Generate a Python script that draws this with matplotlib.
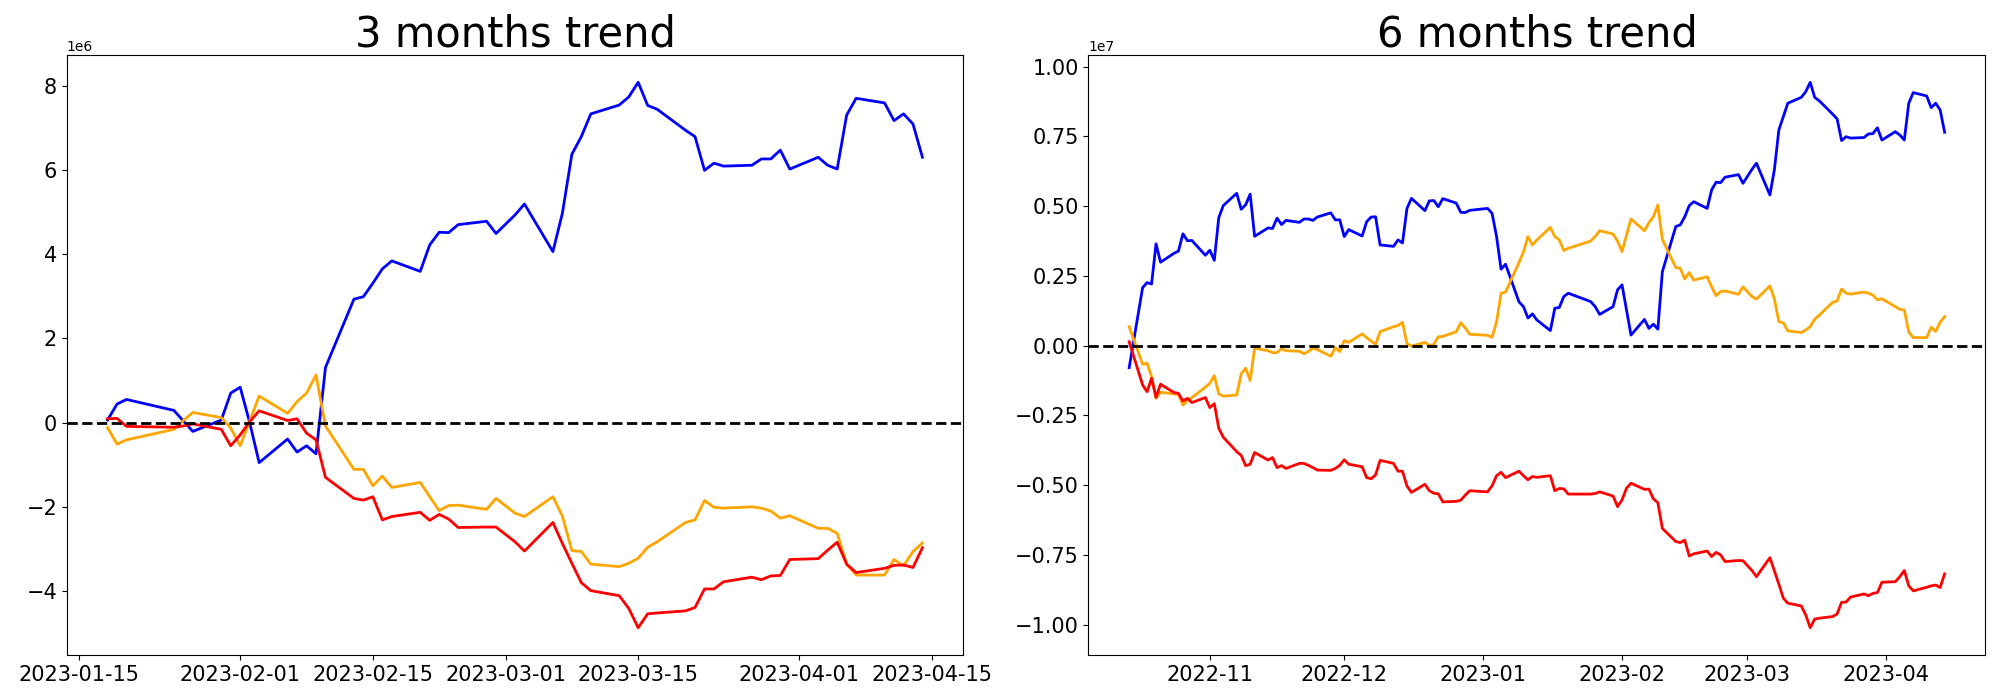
import matplotlib
matplotlib.use("Agg")
import matplotlib.pyplot as plt
import pandas as pd

# Korean market trading days (market holidays excluded)
holidays = ["2022-12-30", "2023-01-23", "2023-01-24", "2023-03-01"]
dates_3m = pd.bdate_range("2023-01-18", "2023-04-14", freq="C", holidays=holidays)
dates_6m = pd.bdate_range("2022-10-14", "2023-04-14", freq="C", holidays=holidays)

# ---- 3 months trend (values in units of 1e6) ----
blue_3m = [0.06, 0.44, 0.55, 0.29, 0.04, -0.21, 0.06, 0.70,
           0.84, 0.0, -0.95, -0.39, -0.70, -0.55, -0.74, 1.31, 2.93, 2.99, 3.31, 3.65,
           3.84, 3.59, 4.22, 4.52, 4.51, 4.70, 4.78, 4.49,
           4.93, 5.19, 4.06, 4.97, 6.37, 6.79, 7.33, 7.54, 7.73, 8.08, 7.53, 7.44,
           6.94, 6.79, 5.99, 6.16, 6.09, 6.11, 6.26, 6.26, 6.47, 6.02,
           6.30, 6.11, 6.02, 7.30, 7.70, 7.59, 7.17, 7.33, 7.09, 6.30]
orange_3m = [-0.12, -0.51, -0.41, -0.16, 0.05, 0.24, 0.12, -0.13,
             -0.55, 0.04, 0.63, 0.22, 0.50, 0.70, 1.13, -0.08, -1.11, -1.11, -1.50, -1.27,
             -1.54, -1.42, -1.76, -2.09, -1.97, -1.96, -2.06, -1.80,
             -2.15, -2.23, -1.76, -2.22, -3.04, -3.06, -3.36, -3.42, -3.34, -3.22, -2.96, -2.83,
             -2.37, -2.31, -1.85, -2.01, -2.03, -2.00, -2.03, -2.10, -2.27, -2.21,
             -2.51, -2.51, -2.63, -3.36, -3.62, -3.62, -3.25, -3.40, -3.06, -2.86]
red_3m = [0.09, 0.10, -0.09, -0.11, -0.08, -0.03, -0.16, -0.55,
          -0.29, 0.02, 0.28, 0.05, 0.09, -0.25, -0.41, -1.30, -1.80, -1.84, -1.76, -2.31,
          -2.23, -2.13, -2.32, -2.18, -2.29, -2.49, -2.48, -2.48,
          -2.83, -3.05, -2.37, -2.87, -3.34, -3.80, -3.99, -4.11, -4.41, -4.87, -4.54, -4.52,
          -4.47, -4.39, -3.95, -3.95, -3.78, -3.67, -3.73, -3.64, -3.63, -3.25,
          -3.23, -3.03, -2.84, -3.36, -3.56, -3.46, -3.39, -3.38, -3.44, -2.97]

# ---- 6 months trend (values in units of 1e7) ----
blue_6m = [-0.079, 0.208, 0.226, 0.221, 0.365, 0.299, 0.331, 0.339, 0.401, 0.376, 0.377, 0.324,
           0.342, 0.306, 0.459, 0.502, 0.546, 0.489, 0.505, 0.543, 0.392, 0.422, 0.420, 0.457,
           0.434, 0.449, 0.442, 0.454, 0.454, 0.449, 0.461, 0.476, 0.451, 0.451,
           0.391, 0.416, 0.393, 0.444, 0.461, 0.462, 0.361, 0.356, 0.379, 0.368, 0.492, 0.528,
           0.484, 0.519, 0.520, 0.498, 0.527, 0.511, 0.478, 0.477, 0.485,
           0.492, 0.474, 0.391, 0.274, 0.292, 0.157, 0.140, 0.099, 0.114, 0.092, 0.054, 0.134,
           0.137, 0.176, 0.188, 0.158, 0.140, 0.112, 0.140, 0.200,
           0.218, 0.128, 0.038, 0.094, 0.062, 0.077, 0.059, 0.265, 0.427, 0.433, 0.462, 0.502,
           0.516, 0.492, 0.558, 0.586, 0.584, 0.604, 0.613, 0.582,
           0.632, 0.654, 0.540, 0.630, 0.773, 0.821, 0.869, 0.890, 0.910, 0.944, 0.890, 0.878,
           0.830, 0.813, 0.735, 0.749, 0.744, 0.746, 0.759, 0.760, 0.781, 0.737,
           0.767, 0.755, 0.737, 0.869, 0.907, 0.895, 0.853, 0.869, 0.845, 0.765]
orange_6m = [0.068, -0.067, -0.063, -0.111, -0.189, -0.167, -0.173, -0.175, -0.213, -0.197, -0.186, -0.149,
             -0.135, -0.107, -0.173, -0.181, -0.177, -0.101, -0.081, -0.125, -0.009, -0.018, -0.025, -0.025,
             -0.011, -0.018, -0.020, -0.029, -0.021, -0.009, -0.014, -0.038, -0.007, -0.021,
             0.018, 0.012, 0.042, 0.029, 0.016, 0.005, 0.050, 0.068, 0.072, 0.084, 0.007, -0.002,
             0.012, 0.000, 0.005, 0.032, 0.033, 0.050, 0.082, 0.064, 0.041,
             0.037, 0.030, 0.086, 0.188, 0.192, 0.298, 0.336, 0.391, 0.361, 0.379, 0.424, 0.391,
             0.379, 0.341, 0.349, 0.375, 0.391, 0.412, 0.400, 0.375,
             0.337, 0.396, 0.454, 0.412, 0.441, 0.462, 0.504, 0.381, 0.280, 0.277, 0.239, 0.262,
             0.235, 0.247, 0.211, 0.179, 0.194, 0.196, 0.184, 0.211,
             0.176, 0.167, 0.214, 0.168, 0.086, 0.082, 0.053, 0.047, 0.056, 0.068, 0.095, 0.109,
             0.155, 0.160, 0.203, 0.188, 0.185, 0.192, 0.188, 0.181, 0.164, 0.168,
             0.140, 0.130, 0.128, 0.049, 0.029, 0.029, 0.066, 0.051, 0.084, 0.104]
red_6m = [0.014, -0.141, -0.165, -0.117, -0.185, -0.138, -0.168, -0.171, -0.198, -0.189, -0.204, -0.186,
          -0.222, -0.208, -0.296, -0.328, -0.380, -0.393, -0.430, -0.425, -0.383, -0.410, -0.401, -0.437,
          -0.430, -0.440, -0.422, -0.422, -0.429, -0.437, -0.446, -0.447, -0.440, -0.429,
          -0.409, -0.425, -0.434, -0.473, -0.477, -0.463, -0.411, -0.422, -0.450, -0.450, -0.503, -0.526,
          -0.497, -0.520, -0.529, -0.531, -0.560, -0.558, -0.554, -0.536, -0.520,
          -0.524, -0.502, -0.466, -0.454, -0.473, -0.450, -0.466, -0.481, -0.469, -0.472, -0.466, -0.520,
          -0.512, -0.513, -0.532, -0.532, -0.530, -0.524, -0.539, -0.577,
          -0.553, -0.511, -0.493, -0.515, -0.514, -0.549, -0.563, -0.655, -0.702, -0.706, -0.697, -0.754,
          -0.746, -0.736, -0.756, -0.741, -0.750, -0.774, -0.770, -0.771,
          -0.806, -0.828, -0.760, -0.807, -0.855, -0.905, -0.923, -0.933, -0.965, -1.011, -0.980, -0.977,
          -0.971, -0.962, -0.920, -0.919, -0.901, -0.890, -0.896, -0.888, -0.885, -0.848,
          -0.846, -0.828, -0.806, -0.861, -0.879, -0.866, -0.861, -0.858, -0.867, -0.818]

titles = ["3 months trend", "6 months trend"]
scales = [1e6, 1e7]
panels = [
    (dates_3m, [blue_3m, orange_3m, red_3m]),
    (dates_6m, [blue_6m, orange_6m, red_6m]),
]
colors = ["blue", "orange", "red"]

fig = plt.figure(figsize=(20, 7), dpi=100)
rects = [[0.0334, 0.0643, 0.4482, 0.8571], [0.5442, 0.0643, 0.4485, 0.8571]]

for rect, title, scale, (dates, series) in zip(rects, titles, scales, panels):
    ax = fig.add_axes(rect)
    for vals, c in zip(series, colors):
        ax.plot(dates, [v * scale for v in vals], color=c, linewidth=2)
    ax.axhline(0, color="black", linestyle="--", linewidth=2)
    ax.set_title(title, fontsize=30)
    ax.tick_params(axis="both", labelsize=15)

fig.savefig("out.png", dpi=100)
